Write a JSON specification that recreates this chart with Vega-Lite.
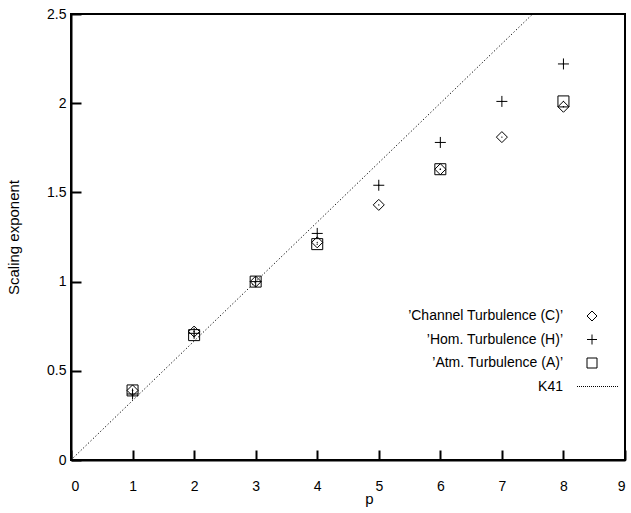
{
  "$schema": "https://vega.github.io/schema/vega-lite/v6.json",
  "padding": {"left": 6, "top": 7, "right": 4, "bottom": 4},
  "width": 554,
  "height": 446,
  "config": {
    "view": {"stroke": "black", "strokeWidth": 2},
    "axis": {
      "labelFont": "Liberation Sans",
      "titleFont": "Liberation Sans",
      "labelFontSize": 14,
      "titleFontSize": 15,
      "titleFontWeight": "normal",
      "labelColor": "black",
      "titleColor": "black",
      "tickColor": "black",
      "tickWidth": 2,
      "tickSize": -10,
      "domain": true,
      "domainColor": "black",
      "domainWidth": 2,
      "grid": false
    }
  },
  "datasets": {
    "pts": [
      {"p": 1, "s": 0.39, "series": "’Channel Turbulence (C)’"},
      {"p": 2, "s": 0.72, "series": "’Channel Turbulence (C)’"},
      {"p": 3, "s": 1.0, "series": "’Channel Turbulence (C)’"},
      {"p": 4, "s": 1.22, "series": "’Channel Turbulence (C)’"},
      {"p": 5, "s": 1.43, "series": "’Channel Turbulence (C)’"},
      {"p": 6, "s": 1.63, "series": "’Channel Turbulence (C)’"},
      {"p": 7, "s": 1.81, "series": "’Channel Turbulence (C)’"},
      {"p": 8, "s": 1.98, "series": "’Channel Turbulence (C)’"},
      {"p": 1, "s": 0.37, "series": "’Hom. Turbulence (H)’"},
      {"p": 2, "s": 0.71, "series": "’Hom. Turbulence (H)’"},
      {"p": 3, "s": 1.0, "series": "’Hom. Turbulence (H)’"},
      {"p": 4, "s": 1.27, "series": "’Hom. Turbulence (H)’"},
      {"p": 5, "s": 1.54, "series": "’Hom. Turbulence (H)’"},
      {"p": 6, "s": 1.78, "series": "’Hom. Turbulence (H)’"},
      {"p": 7, "s": 2.01, "series": "’Hom. Turbulence (H)’"},
      {"p": 8, "s": 2.22, "series": "’Hom. Turbulence (H)’"},
      {"p": 1, "s": 0.39, "series": "’Atm. Turbulence (A)’"},
      {"p": 2, "s": 0.7, "series": "’Atm. Turbulence (A)’"},
      {"p": 3, "s": 1.0, "series": "’Atm. Turbulence (A)’"},
      {"p": 4, "s": 1.21, "series": "’Atm. Turbulence (A)’"},
      {"p": 6, "s": 1.63, "series": "’Atm. Turbulence (A)’"},
      {"p": 8, "s": 2.01, "series": "’Atm. Turbulence (A)’"}
    ],
    "k41": [
      {"p": 0, "s": 0},
      {"p": 7.5, "s": 2.5}
    ]
  },
  "layer": [
    {
      "data": {"name": "pts"},
      "mark": {"type": "point", "filled": false, "color": "black", "strokeWidth": 1, "size": 121, "opacity": 1},
      "encoding": {
        "x": {"field": "p", "type": "quantitative", "scale": {"domain": [0, 9], "nice": false, "zero": false},
          "axis": {"orient": "bottom", "title": "p", "values": [0, 1, 2, 3, 4, 5, 6, 7, 8, 9], "format": "~g", "labelPadding": 29,
            "titleX": 298, "titleY": 43, "titleBaseline": "alphabetic"}},
        "y": {"field": "s", "type": "quantitative", "scale": {"domain": [0, 2.5], "nice": false, "zero": false},
          "axis": {"orient": "left", "title": "Scaling exponent", "values": [0, 0.5, 1, 1.5, 2, 2.5], "format": "~g", "labelPadding": 15,
            "titleX": -53, "titleBaseline": "alphabetic"}},
        "shape": {
          "field": "series", "type": "nominal",
          "scale": {
            "domain": ["’Channel Turbulence (C)’", "’Hom. Turbulence (H)’", "’Atm. Turbulence (A)’", "K41"],
            "range": ["diamond", "M-1,0H1M0,-1V1", "square", "M-3,0h0.2M-2.6,0h0.2M-2.2,0h0.2M-1.8,0h0.2M-1.4,0h0.2M-1,0h0.2M-0.6,0h0.2M-0.2,0h0.2M0.2,0h0.2M0.6,0h0.2M1,0h0.2M1.4,0h0.2M1.8,0h0.2M2.2,0h0.2M2.6,0h0.2M3,0h0.2M3.4,0h0.2M3.8,0h0.2M4.2,0h0.2M4.6,0h0.2M5,0h0.2"]
          },
          "legend": {
            "orient": "none",
            "legendX": 514,
            "legendY": 295,
            "title": null,
            "labelAlign": "right",
            "labelOffset": -36,
            "labelLimit": 400,
            "labelFontSize": 14,
            "labelFont": "Liberation Sans",
            "labelColor": "black",
            "symbolSize": 100,
            "symbolStrokeWidth": 1,
            "symbolStrokeColor": "black",
            "symbolFillColor": "transparent",
            "rowPadding": 9.5
          }
        }
      }
    },
    {
      "data": {"name": "k41"},
      "mark": {"type": "line", "color": "black", "strokeWidth": 1, "strokeDash": [1.2, 2.2]},
      "encoding": {
        "x": {"field": "p", "type": "quantitative"},
        "y": {"field": "s", "type": "quantitative"}
      }
    },
    {
      "data": {"name": "pts"},
      "mark": {"type": "circle", "color": "black", "size": 2, "opacity": 1},
      "encoding": {
        "x": {"field": "p", "type": "quantitative"},
        "y": {"field": "s", "type": "quantitative"}
      }
    }
  ]
}
